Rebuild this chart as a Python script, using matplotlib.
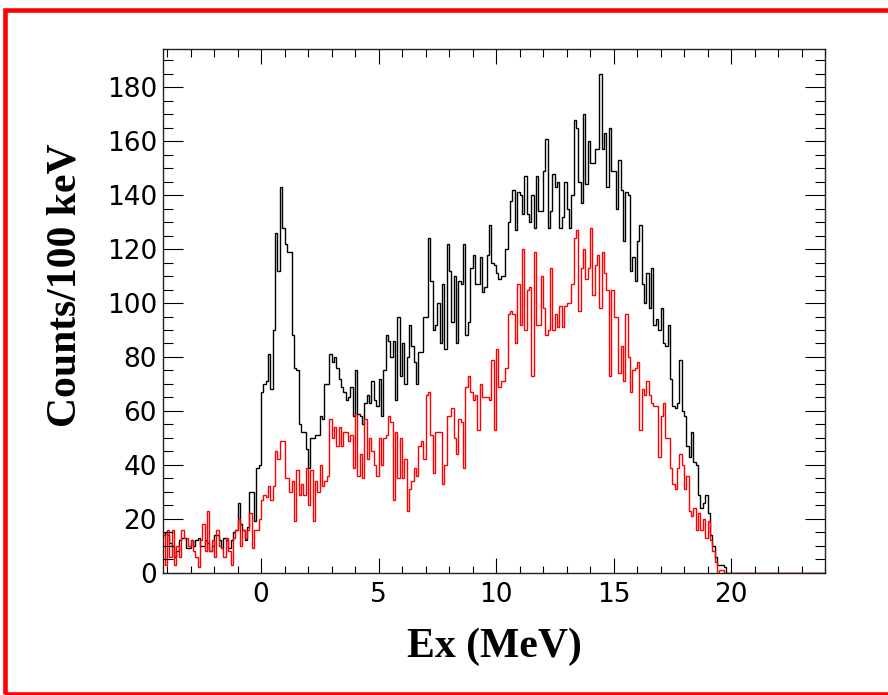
import numpy as np
import matplotlib
matplotlib.use("Agg")
import matplotlib.pyplot as plt
from matplotlib.ticker import MultipleLocator
from matplotlib.patches import Rectangle

# Ex spectra, counts per 100 keV bin, first bin starts at -4.2 MeV
bin_start = -4.2
bin_width = 0.1

counts_all = [
    14, 15, 14, 11, 10, 6, 8, 12, 13, 13,
    9, 9, 12, 10, 12, 13, 10, 10, 12, 11,
    8, 10, 14, 14, 12, 9, 13, 12, 9, 12,
    15, 16, 26, 18, 16, 12, 17, 30, 30, 19,
    39, 40,
    67, 70, 71, 81, 68, 90, 126, 112, 143, 128,
    122, 119, 119, 88, 76, 75, 55, 52, 52, 46,
    39, 50, 50, 51, 51, 58, 57, 70, 70, 81,
    78, 80, 76, 72, 69, 67, 64, 65, 69, 58,
    75, 59, 58, 55, 63, 66, 63, 71, 64, 62,
    72, 58, 75, 88, 86, 80, 86, 64, 95, 73,
    85, 70, 80, 92, 84, 78, 70, 82, 82, 95,
    95, 124, 108, 90, 92, 100, 85, 107, 83, 122,
    112, 93, 110, 85, 108, 107, 122, 88, 93, 113,
    118, 107, 107, 117, 104, 106, 118, 129, 115, 114,
    111, 109, 110, 110, 120, 130, 138, 142, 127, 141,
    140, 133, 147, 133, 130, 140, 128, 147, 134, 134,
    149, 161, 128, 134, 148, 143, 145, 128, 132, 145,
    135, 128, 140, 168, 165, 145, 137, 170, 144, 160,
    152, 152, 157, 157, 185, 157, 163, 143, 165, 149,
    149, 135, 153, 142, 123, 141, 140, 112, 117, 108,
    123, 129, 107, 100, 111, 98, 113, 92, 94, 90,
    98, 85, 84, 92, 72, 62, 61, 63, 79, 60,
    58, 47, 43, 52, 41, 40, 29, 24, 26, 29,
    22, 14, 10, 6, 3, 3, 3, 2, 0, 0,
]

counts_gated = [
    14, 3, 16, 6, 16, 3, 10, 6, 16, 13,
    13, 10, 12, 8, 6, 2, 12, 18, 8, 23,
    8, 12, 6, 16, 10, 9, 6, 13, 8, 3,
    13, 16, 20, 10, 16, 13, 16, 22, 9, 16,
    16, 20,
    27, 29, 28, 32, 27, 32, 45, 42, 49, 49,
    35, 35, 30, 34, 19, 38, 29, 33, 29, 39,
    25, 38, 19, 34, 30, 40, 32, 34, 36, 57,
    50, 54, 47, 54, 47, 52, 52, 49, 51, 39,
    59, 36, 44, 35, 57, 42, 50, 45, 40, 36,
    50, 40, 50, 51, 58, 56, 27, 52, 35, 50,
    35, 42, 23, 31, 34, 39, 36, 47, 49, 42,
    66, 67, 51, 37, 52, 52, 52, 33, 40, 58,
    58, 61, 50, 44, 57, 56, 39, 69, 73, 67,
    64, 66, 53, 70, 65, 65, 65, 64, 79, 53,
    83, 69, 71, 71, 76, 96, 97, 96, 85, 107,
    92, 120, 90, 105, 106, 73, 119, 92, 92, 110,
    98, 88, 90, 113, 90, 96, 91, 99, 91, 99,
    100, 100, 107, 124, 127, 97, 113, 120, 109, 113,
    128, 103, 114, 118, 98, 119, 111, 105, 73, 105,
    95, 95, 74, 84, 71, 96, 80, 67, 75, 76,
    78, 53, 68, 66, 71, 66, 63, 62, 62, 43,
    58, 63, 50, 50, 39, 33, 31, 39, 44, 40,
    31, 36, 23, 21, 24, 16, 22, 16, 20, 13,
    19, 12, 8, 4, 0, 1, 1, 0, 0, 0,
]

# empty bins from 20 MeV up to the end of the axis
empty_tail = [0] * 43

x_ticks = [0, 5, 10, 15, 20]
y_ticks = [0, 20, 40, 60, 80, 100, 120, 140, 160, 180]

vals_all = np.array(counts_all + empty_tail, dtype=float)
vals_gated = np.array(counts_gated + empty_tail, dtype=float)
edges = bin_start + bin_width * np.arange(len(vals_all) + 1)

fig = plt.figure(figsize=(8.88, 6.95), dpi=100)
ax = fig.add_axes([163.3 / 888, 1 - 572.7 / 695, (825 - 163.3) / 888, (572.7 - 49.3) / 695])

ax.stairs(vals_all, edges, color="black", lw=1.0, baseline=None)
ax.stairs(vals_gated, edges, color="#ff0000", lw=1.0, baseline=None)

ax.set_xlim(-4.16, 24.0)
ax.set_ylim(0, 194.1)
ax.set_xticks(x_ticks)
ax.set_yticks(y_ticks)
ax.xaxis.set_minor_locator(MultipleLocator(1))
ax.yaxis.set_minor_locator(MultipleLocator(5))

ax.tick_params(which="both", direction="in", top=True, right=True, width=0.8, color="black")
ax.tick_params(axis="x", which="major", length=10.8, pad=7)
ax.tick_params(axis="x", which="minor", length=5.4)
ax.tick_params(axis="y", which="major", length=14.4, pad=4.5)
ax.tick_params(axis="y", which="minor", length=7.2)
for lab in ax.get_xticklabels() + ax.get_yticklabels():
    lab.set_fontfamily("DejaVu Sans")
    lab.set_fontsize(19)

for sp in ax.spines.values():
    sp.set_color("#222222")
    sp.set_linewidth(1.0)

fig.text(66 / 888, 1 - 285 / 695, "Counts/100 keV", rotation=90, ha="center", va="center",
         fontfamily="Liberation Serif", fontweight="bold", fontsize=30)
fig.text(494 / 888, 1 - 647 / 695, "Ex (MeV)", ha="center", va="center",
         fontfamily="Liberation Serif", fontweight="bold", fontsize=30)

# red frame around the figure (left, top and bottom edges)
frame = Rectangle((5 / 888, 1 / 695), 900 / 888, 684.5 / 695, transform=fig.transFigure,
                  fill=False, edgecolor="#ff0000", lw=3.3, clip_on=False)
fig.add_artist(frame)

fig.savefig("out.png", dpi=100)
